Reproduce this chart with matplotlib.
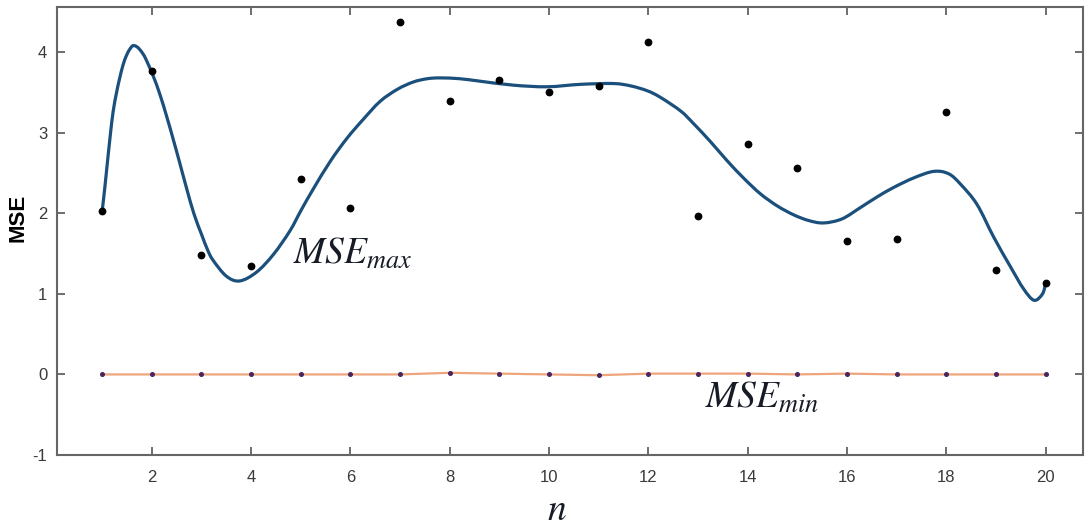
"""
MSE over n: max values with smooth fit, min values near zero
"""
import matplotlib
matplotlib.use("Agg")
import matplotlib.pyplot as plt
from matplotlib.path import Path
from matplotlib.patches import PathPatch
import numpy as np

# observed MSE_max per n
n = np.arange(1, 21)
mse_max = [2.03, 3.77, 1.48, 1.34, 2.43, 2.06, 4.37, 3.39, 3.65, 3.50,
           3.58, 4.12, 1.96, 2.86, 2.56, 1.65, 1.68, 3.26, 1.30, 1.13]
mse_min = [0.0, 0.0, 0.0, 0.0, 0.0, 0.0, 0.0, 0.02, 0.01, 0.0,
           -0.01, 0.01, 0.01, 0.01, 0.0, 0.01, 0.0, 0.0, 0.0, 0.0]

# fitted curve
fit_x = [1.00, 1.05, 1.10, 1.16, 1.22, 1.29, 1.35, 1.42, 1.49, 1.56, 1.62,
         1.69, 1.76, 1.83, 1.89, 2.03, 2.16, 2.30, 2.43, 2.56, 2.70, 2.85,
         3.00, 3.12, 3.23, 3.50, 3.77, 4.11, 4.45, 4.78, 5.00, 5.25, 5.60,
         5.93, 6.25, 6.60, 6.95, 7.27, 7.55, 7.80, 8.20, 8.60, 9.28, 9.96,
         10.63, 11.30, 11.65, 11.98, 12.24, 12.65, 12.90, 13.25, 13.59,
         13.93, 14.26, 14.60, 14.93, 15.23, 15.53, 15.90, 16.27, 16.60,
         16.94, 17.35, 17.75, 18.05, 18.29, 18.62, 18.96, 19.30, 19.56,
         19.77, 19.94, 20.00]
fit_y = [2.03, 2.30, 2.60, 2.95, 3.26, 3.50, 3.67, 3.84, 3.96, 4.04, 4.08,
         4.07, 4.03, 3.97, 3.90, 3.70, 3.48, 3.20, 2.92, 2.63, 2.31, 1.99,
         1.74, 1.55, 1.42, 1.22, 1.16, 1.27, 1.49, 1.78, 2.03, 2.30, 2.65,
         2.93, 3.16, 3.39, 3.54, 3.63, 3.67, 3.68, 3.67, 3.64, 3.59, 3.57,
         3.60, 3.61, 3.58, 3.52, 3.44, 3.27, 3.12, 2.89, 2.65, 2.43, 2.24,
         2.09, 1.98, 1.91, 1.88, 1.93, 2.07, 2.20, 2.32, 2.44, 2.52, 2.49,
         2.36, 2.11, 1.70, 1.33, 1.06, 0.92, 1.00, 1.13]

xticks = [2, 4, 6, 8, 10, 12, 14, 16, 18, 20]
yticks = [-1, 0, 1, 2, 3, 4]


def smooth_path(xs, ys):
    # draw the read points as a Catmull-Rom style bezier path
    p = np.column_stack([xs, ys])
    verts = [p[0]]
    codes = [Path.MOVETO]
    for i in range(len(p) - 1):
        p0 = p[i - 1] if i > 0 else p[i]
        p3 = p[i + 2] if i + 2 < len(p) else p[i + 1]
        c1 = p[i] + (p[i + 1] - p0) / 6
        c2 = p[i + 1] - (p3 - p[i]) / 6
        verts += [c1, c2, p[i + 1]]
        codes += [Path.CURVE4] * 3
    return Path(verts, codes)


plt.rcParams['mathtext.fontset'] = 'stix'
plt.rcParams['axes.unicode_minus'] = False
plt.rcParams['font.family'] = ['Liberation Sans', 'DejaVu Sans']

fig = plt.figure(figsize=(10.91, 5.29), dpi=100)
ax = fig.add_axes([57 / 1091, 1 - 455 / 529, (1083 - 57) / 1091, (455 - 7) / 529])

ax.plot(n, mse_min, color='#eea57c', lw=1.6, zorder=2)
ax.plot(n, mse_min, ls='none', marker='o', ms=2.6, color='#4a2660', zorder=3)
ax.add_patch(PathPatch(smooth_path(fit_x, fit_y), fill=False, edgecolor='#1b4f7c',
                       lw=2.3, capstyle='round', zorder=4))
ax.plot(n, mse_max, ls='none', marker='o', ms=4.6, color='black', zorder=5)

ax.set_xlim(0.09, 20.755)
ax.set_ylim(-1, 4.56)
ax.set_xticks(xticks)
ax.set_yticks(yticks)
ax.tick_params(direction='in', length=6, width=1.2, colors='#555555',
               labelcolor='#3a3a3a', labelsize=12, top=True, right=True)
ax.tick_params(axis='x', pad=11)
ax.tick_params(axis='y', pad=7)
for sp in ax.spines.values():
    sp.set_color('#666666')
    sp.set_linewidth(1.5)

txt_color = '#161b26'
ax.text(4.84, 1.37, r'$MSE_{max}$', fontsize=27, color=txt_color,
        ha='left', va='baseline')
ax.text(13.14, -0.41, r'$MSE_{min}$', fontsize=27, color=txt_color,
        ha='left', va='baseline')
fig.text(557 / 1091, 9 / 529, r'$n$', fontsize=27, color=txt_color,
         ha='center', va='baseline')
fig.text(18 / 1091, 1 - 218 / 529, 'MSE', fontsize=16, fontweight='bold',
         rotation=90, ha='center', va='center', color='black')

fig.savefig('out.png', dpi=100)
